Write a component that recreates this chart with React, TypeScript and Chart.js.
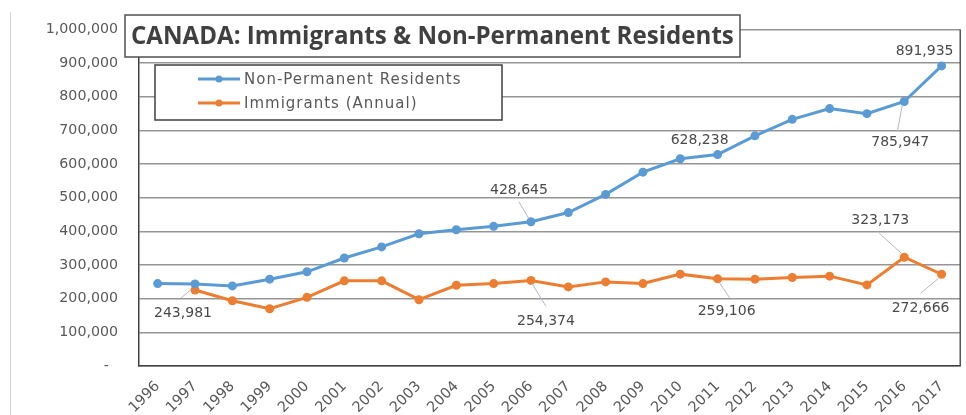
import React, { useEffect, useRef } from "react";
import { Chart, registerables } from "chart.js";

Chart.register(...registerables);

const chartTitle = "CANADA: Immigrants & Non-Permanent Residents";
const years = [
  "1996", "1997", "1998", "1999", "2000", "2001", "2002", "2003", "2004", "2005", "2006",
  "2007", "2008", "2009", "2010", "2011", "2012", "2013", "2014", "2015", "2016", "2017",
];
const seriesNames = ["Non-Permanent Residents", "Immigrants (Annual)"];
const nonPermanentResidents = [
  245000, 243981, 238000, 258000, 280000, 321000, 354000, 393000, 405000, 415000, 428645,
  456000, 510000, 576000, 616000, 628238, 684000, 733000, 765000, 750000, 785947, 891935,
];
const immigrants = [
  null, 226000, 194000, 170000, 204000, 253000, 253000, 197000, 240000, 245000, 254374,
  235000, 250000, 245000, 273000, 259106, 258000, 263000, 267000, 241000, 323173, 272666,
];
const yMin = 0;
const yMax = 1000000;
const yStep = 100000;

// label placement (style only): dataset, index, text offset, optional leader line offsets
const calloutLayout = [
  { ds: 0, i: 1, dx: -12, dy: 29, leader: [-4, 6, -14, 14] },
  { ds: 0, i: 10, dx: -12, dy: -31, leader: [-2, -3, -12, -20] },
  { ds: 0, i: 15, dx: -18, dy: -14 },
  { ds: 0, i: 20, dx: -4, dy: 41, leader: [-2, 4, -7, 30] },
  { ds: 0, i: 21, dx: -17, dy: -15 },
  { ds: 1, i: 10, dx: 15, dy: 41, leader: [1, 3, 15, 26] },
  { ds: 1, i: 15, dx: 9, dy: 33, leader: [2, 4, 12, 19] },
  { ds: 1, i: 20, dx: -24, dy: -37, leader: [-3, -4, -25, -24] },
  { ds: 1, i: 21, dx: -21, dy: 34, leader: [-3, 4, -21, 19] },
];

const BLUE = "#5B9BD5";
const ORANGE = "#ED7D31";
const TEXT = "#595959";
const FONT = "'DejaVu Sans', sans-serif";

const fmt = (v: number) => v.toLocaleString("en-US");

const decorPlugin = {
  id: "decor",
  afterDatasetsDraw(chart: any) {
    const { ctx, chartArea } = chart;
    ctx.save();
    // right border of plot area
    ctx.strokeStyle = "#555555";
    ctx.lineWidth = 1.5;
    ctx.beginPath();
    ctx.moveTo(chartArea.right, chartArea.top);
    ctx.lineTo(chartArea.right, chartArea.bottom);
    ctx.stroke();
    // outer chart border (left)
    ctx.strokeStyle = "#d4d4d4";
    ctx.lineWidth = 1;
    ctx.beginPath();
    ctx.moveTo(10.5, 12);
    ctx.lineTo(10.5, 415);
    ctx.stroke();

    // callouts
    ctx.font = `14px ${FONT}`;
    ctx.textAlign = "center";
    ctx.textBaseline = "middle";
    for (const c of calloutLayout) {
      const meta = chart.getDatasetMeta(c.ds);
      const el = meta.data[c.i];
      const val = chart.data.datasets[c.ds].data[c.i];
      if (!el || val == null) continue;
      const px = el.x;
      const py = el.y;
      if (c.leader) {
        ctx.strokeStyle = "#aeb9c6";
        ctx.lineWidth = 1;
        ctx.beginPath();
        ctx.moveTo(px + c.leader[0], py + c.leader[1]);
        ctx.lineTo(px + c.leader[2], py + c.leader[3]);
        ctx.stroke();
      }
      ctx.fillStyle = "#4a4a4a";
      ctx.fillText(fmt(val as number), px + c.dx, py + c.dy);
    }

    // legend box
    const lx = 155, ly = 65, lw = 347, lh = 55;
    ctx.fillStyle = "#ffffff";
    ctx.fillRect(lx, ly, lw, lh);
    ctx.strokeStyle = "#404040";
    ctx.lineWidth = 1.5;
    ctx.strokeRect(lx, ly, lw, lh);
    chart.data.datasets.forEach((ds: any, k: number) => {
      const y = 79 + k * 24;
      ctx.strokeStyle = ds.borderColor;
      ctx.lineWidth = 3;
      ctx.beginPath();
      ctx.moveTo(198, y);
      ctx.lineTo(240, y);
      ctx.stroke();
      ctx.fillStyle = ds.borderColor;
      ctx.beginPath();
      ctx.arc(219, y, 3.5, 0, Math.PI * 2);
      ctx.fill();
      ctx.fillStyle = TEXT;
      ctx.font = `15px ${FONT}`;
      (ctx as any).letterSpacing = "1px";
      ctx.textAlign = "left";
      ctx.textBaseline = "middle";
      ctx.fillText(ds.label, 244, y + 1);
      (ctx as any).letterSpacing = "0px";
    });

    // title box
    const tx = 125, ty = 15, tw = 615, th = 42;
    ctx.fillStyle = "#ffffff";
    ctx.fillRect(tx, ty, tw, th);
    ctx.strokeStyle = "#505050";
    ctx.lineWidth = 1.5;
    ctx.strokeRect(tx, ty, tw, th);
    let size = 22;
    ctx.font = `700 ${size}px 'Open Sans', sans-serif`;
    const w = ctx.measureText(chartTitle).width;
    size = size * 603 / w;
    ctx.font = `700 ${size}px 'Open Sans', sans-serif`;
    ctx.fillStyle = "#404040";
    ctx.textAlign = "left";
    ctx.textBaseline = "middle";
    ctx.fillText(chartTitle, 131, ty + th / 2 + 1);
    ctx.restore();
  },
};

export default function App() {
  const ref = useRef<HTMLCanvasElement | null>(null);
  useEffect(() => {
    if (!ref.current) return;
    const chart = new Chart(ref.current, {
      type: "line",
      data: {
        labels: years,
        datasets: [
          {
            label: seriesNames[0],
            data: nonPermanentResidents,
            borderColor: BLUE,
            backgroundColor: BLUE,
            borderWidth: 3,
            pointRadius: 4.5,
            pointHoverRadius: 4.5,
            pointBorderWidth: 0,
            tension: 0,
          },
          {
            label: seriesNames[1],
            data: immigrants,
            borderColor: ORANGE,
            backgroundColor: ORANGE,
            borderWidth: 3,
            pointRadius: 4.5,
            pointHoverRadius: 4.5,
            pointBorderWidth: 0,
            tension: 0,
          },
        ],
      },
      options: {
        animation: false,
        responsive: true,
        maintainAspectRatio: false,
        layout: { padding: { top: 26, right: 5, left: 0, bottom: 0 } },
        plugins: { legend: { display: false }, title: { display: false }, tooltip: { enabled: false } },
        scales: {
          x: {
            type: "category",
            offset: true,
            grid: { drawOnChartArea: false, drawTicks: false },
            border: { color: "#404040", width: 1.5 },
            ticks: {
              minRotation: 45,
              maxRotation: 45,
              autoSkip: false,
              padding: 12,
              color: TEXT,
              font: { family: FONT, size: 14.5 },
            },
            afterFit: (s: any) => { s.height = 49; },
          },
          y: {
            min: yMin,
            max: yMax,
            ticks: {
              stepSize: yStep,
              padding: 21,
              color: TEXT,
              font: { family: FONT, size: 14.2 },
              callback: (v: any) => (v === 0 ? "-  " : fmt(v)),
            },
            grid: { color: "#959595", lineWidth: 1.5, drawTicks: false },
            border: { color: "#404040", width: 1.5 },
            afterFit: (s: any) => { s.width = 139; },
          },
        },
      },
      plugins: [decorPlugin],
    });
    return () => chart.destroy();
  }, []);
  return (
    <div style={{ position: "absolute", left: 0, top: 0, width: 966, height: 415, background: "#fff" }}>
      <canvas ref={ref} />
    </div>
  );
}
